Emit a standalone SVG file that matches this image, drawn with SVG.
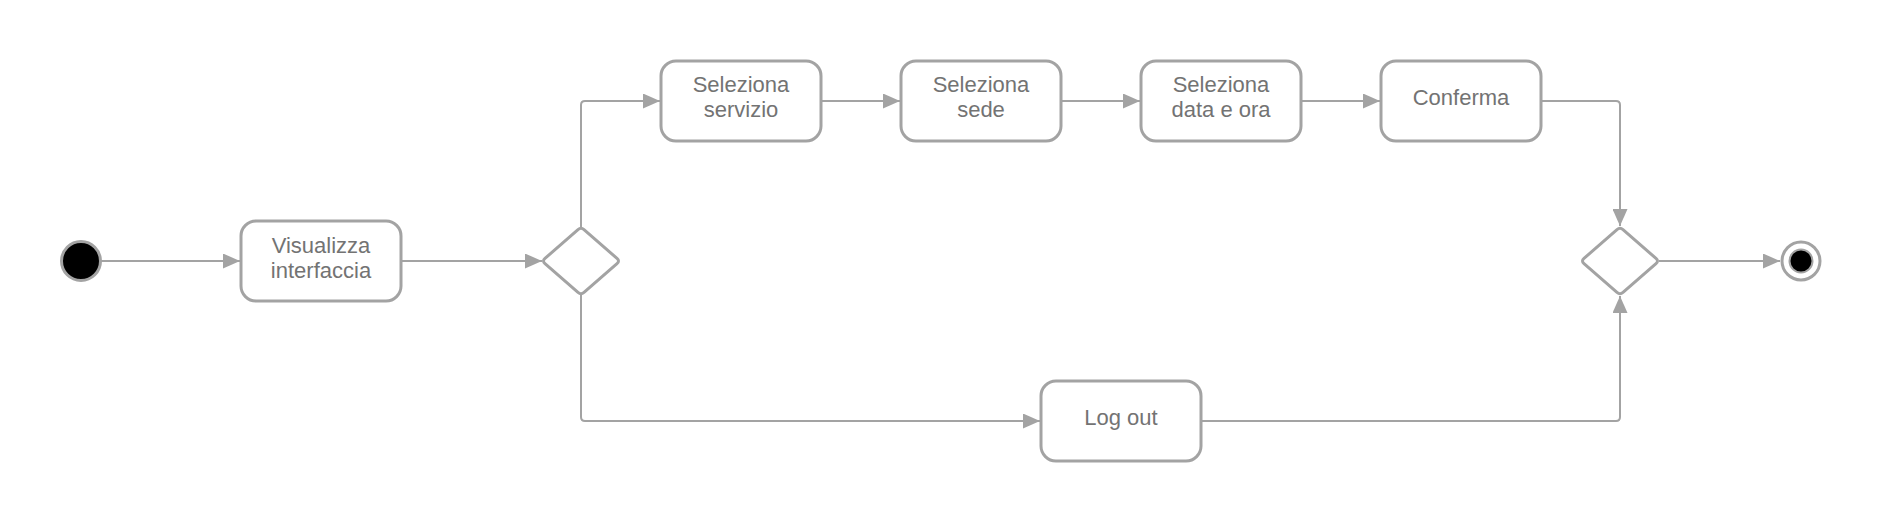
<svg xmlns="http://www.w3.org/2000/svg" width="1883" height="525" viewBox="0 0 1883 525">
<style>
.box{fill:#fff;stroke:#a3a3a3;stroke-width:3}
.lbl{font-family:"Liberation Sans",Arial,sans-serif;font-size:22px;fill:#737373;text-anchor:middle}
.edge{fill:none;stroke:#a3a3a3;stroke-width:2}
</style>
<defs>
<marker id="arr" markerUnits="userSpaceOnUse" markerWidth="17" markerHeight="15" refX="17" refY="7.5" orient="auto">
<path d="M0,0 L17,7.5 L0,15 Z" fill="#a3a3a3"/>
</marker>
</defs>
<rect width="1883" height="525" fill="#fff"/>
<g id="connectors">
<path class="edge" d="M101,261 H240" marker-end="url(#arr)"/>
<path class="edge" d="M402,261 H542" marker-end="url(#arr)"/>
<path class="edge" d="M581,227 V105 Q581,101 585,101 H660" marker-end="url(#arr)"/>
<path class="edge" d="M822,101 H900" marker-end="url(#arr)"/>
<path class="edge" d="M1062,101 H1140" marker-end="url(#arr)"/>
<path class="edge" d="M1302,101 H1380" marker-end="url(#arr)"/>
<path class="edge" d="M1542,101 H1616 Q1620,101 1620,105 V226" marker-end="url(#arr)"/>
<path class="edge" d="M581,294 V417 Q581,421 585,421 H1040" marker-end="url(#arr)"/>
<path class="edge" d="M1202,421 H1616 Q1620,421 1620,417 V296" marker-end="url(#arr)"/>
<path class="edge" d="M1659,261 H1780" marker-end="url(#arr)"/>
</g>
<g id="start">
<circle cx="81" cy="261" r="19.5" fill="#000" stroke="#a3a3a3" stroke-width="3"/>
</g>
<g id="visualizza">
<rect class="box" x="241" y="221" width="160" height="80" rx="15"/>
<text class="lbl" x="321" y="253">Visualizza</text>
<text class="lbl" x="321" y="278">interfaccia</text>
</g>
<g id="decision1">
<path class="box" transform="translate(581,261)" d="M-3,-31.4 Q0,-34 3,-31.4 L36,-2.6 Q39,0 36,2.6 L3,31.4 Q0,34 -3,31.4 L-36,2.6 Q-39,0 -36,-2.6 Z"/>
</g>
<g id="servizio">
<rect class="box" x="661" y="61" width="160" height="80" rx="15"/>
<text class="lbl" x="741" y="92">Seleziona</text>
<text class="lbl" x="741" y="117">servizio</text>
</g>
<g id="sede">
<rect class="box" x="901" y="61" width="160" height="80" rx="15"/>
<text class="lbl" x="981" y="92">Seleziona</text>
<text class="lbl" x="981" y="117">sede</text>
</g>
<g id="dataora">
<rect class="box" x="1141" y="61" width="160" height="80" rx="15"/>
<text class="lbl" x="1221" y="92">Seleziona</text>
<text class="lbl" x="1221" y="117">data e ora</text>
</g>
<g id="conferma">
<rect class="box" x="1381" y="61" width="160" height="80" rx="15"/>
<text class="lbl" x="1461" y="105">Conferma</text>
</g>
<g id="logout">
<rect class="box" x="1041" y="381" width="160" height="80" rx="15"/>
<text class="lbl" x="1121" y="425">Log out</text>
</g>
<g id="decision2">
<path class="box" transform="translate(1620,261)" d="M-3,-31.4 Q0,-34 3,-31.4 L36,-2.6 Q39,0 36,2.6 L3,31.4 Q0,34 -3,31.4 L-36,2.6 Q-39,0 -36,-2.6 Z"/>
</g>
<g id="end">
<circle cx="1801" cy="261" r="19" fill="#fff" stroke="#a3a3a3" stroke-width="3"/>
<circle cx="1801" cy="261" r="11.5" fill="#000" stroke="#a3a3a3" stroke-width="2"/>
</g>
</svg>
